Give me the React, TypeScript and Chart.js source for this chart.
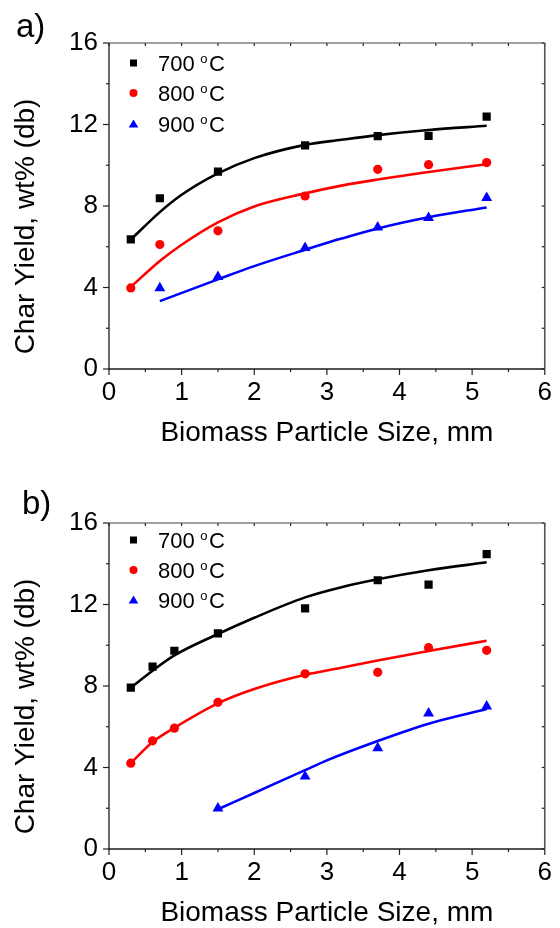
import React, { useEffect, useRef } from 'react';
import { Chart, registerables } from 'chart.js';

Chart.register(...registerables);

const FONT = '"Liberation Sans", Arial, Helvetica, sans-serif';

const X_MIN = 0;
const X_MAX = 6;
const Y_MIN = 0;
const Y_MAX = 16;

// Temperatures, colours and marker shapes shared by both panels
const tempLabels = ['700', '800', '900'];
const seriesColors = ['#000000', '#ff0000', '#0000ff'];
const markerStyles = ['rect', 'circle', 'triangle'];

// Panel a) measured char yields
const sizesA = [0.3, 0.7, 1.5, 2.7, 3.7, 4.4, 5.2];
const yieldA700 = [6.36, 8.38, 9.69, 10.98, 11.43, 11.44, 12.39];
const yieldA800 = [3.98, 6.11, 6.78, 8.49, 9.8, 10.03, 10.13];
const sizesA900 = [0.7, 1.5, 2.7, 3.7, 4.4, 5.2];
const yieldA900 = [3.97, 4.52, 5.95, 6.95, 7.42, 8.4];

// Panel a) fitted trend curves
const fitA700X = [0.3, 0.7, 1.0, 1.5, 2.0, 2.7, 3.2, 3.7, 4.4, 5.2];
const fitA700Y = [6.35, 7.7, 8.55, 9.6, 10.35, 11.0, 11.25, 11.48, 11.73, 11.94];
const fitA800X = [0.3, 0.7, 1.0, 1.5, 2.0, 2.7, 3.2, 3.7, 4.4, 5.2];
const fitA800Y = [4.03, 5.3, 6.1, 7.2, 7.98, 8.62, 9.0, 9.3, 9.67, 10.05];
const fitA900X = [0.7, 1.5, 2.0, 2.7, 3.2, 3.7, 4.4, 5.2];
const fitA900Y = [3.33, 4.4, 5.05, 5.85, 6.4, 6.9, 7.45, 7.93];

// Panel b) measured char yields
const sizesB = [0.3, 0.6, 0.9, 1.5, 2.7, 3.7, 4.4, 5.2];
const yieldB700 = [7.92, 8.95, 9.73, 10.58, 11.81, 13.19, 12.98, 14.47];
const yieldB800 = [4.21, 5.31, 5.93, 7.2, 8.6, 8.67, 9.88, 9.75];
const sizesB900 = [1.5, 2.7, 3.7, 4.4, 5.2];
const yieldB900 = [2.0, 3.56, 4.95, 6.66, 7.0];

// Panel b) fitted trend curves
const fitB700X = [0.3, 0.6, 0.9, 1.5, 2.0, 2.7, 3.2, 3.7, 4.4, 5.2];
const fitB700Y = [7.92, 8.75, 9.5, 10.55, 11.35, 12.35, 12.85, 13.24, 13.68, 14.07];
const fitB800X = [0.3, 0.6, 0.9, 1.5, 2.0, 2.7, 3.2, 3.7, 4.4, 5.2];
const fitB800Y = [4.21, 5.25, 5.95, 7.15, 7.85, 8.55, 8.9, 9.25, 9.72, 10.22];
const fitB900X = [1.5, 2.0, 2.7, 3.0, 3.7, 4.4, 5.2];
const fitB900Y = [1.95, 2.75, 3.87, 4.35, 5.3, 6.15, 6.87];

const xTitle = 'Biomass Particle Size, mm';
const yTitle = 'Char Yield, wt% (db)';

type Series = { xs: number[]; ys: number[] };

interface PanelSpec {
  tag: string;
  tagX: number;
  tagY: number;
  legendRows: number[];
  points: Series[];
  fits: Series[];
}

const zip = (xs: number[], ys: number[]) => xs.map((x, i) => ({ x, y: ys[i] }));

const markerRadius = [5.8, 4.6, 6.3];

function drawLegendMarker(ctx: CanvasRenderingContext2D, style: string, x: number, y: number, color: string) {
  ctx.fillStyle = color;
  ctx.beginPath();
  if (style === 'rect') {
    ctx.rect(x - 3.5, y - 3.5, 7, 7);
  } else if (style === 'circle') {
    ctx.arc(x, y, 4, 0, Math.PI * 2);
  } else {
    ctx.moveTo(x, y - 4.5);
    ctx.lineTo(x + 4.8, y + 3.5);
    ctx.lineTo(x - 4.8, y + 3.5);
    ctx.closePath();
  }
  ctx.fill();
}

function makeFramePlugin() {
  return {
    id: 'frameTicks',
    afterDraw(chart: any) {
      const { ctx, chartArea: a, scales } = chart;
      const xs = scales.x;
      const ys = scales.y;
      const seg = (x1: number, y1: number, x2: number, y2: number) => {
        ctx.beginPath();
        ctx.moveTo(x1, y1);
        ctx.lineTo(x2, y2);
        ctx.stroke();
      };
      ctx.save();
      ctx.lineWidth = 1.2;
      ctx.strokeStyle = '#222';
      for (let i = 0; i <= (X_MAX - X_MIN) * 2; i++) {
        const v = X_MIN + i * 0.5;
        const px = xs.getPixelForValue(v);
        const major = i % 2 === 0;
        seg(px, a.bottom, px, a.bottom + (major ? 6 : 3));
        seg(px, a.top, px, a.top + 3);
      }
      for (let i = 0; i <= (Y_MAX - Y_MIN) / 2; i++) {
        const v = Y_MIN + i * 2;
        const py = ys.getPixelForValue(v);
        const major = i % 2 === 0;
        seg(a.left - (major ? 6 : 3), py, a.left, py);
        seg(a.right - 3, py, a.right, py);
      }
      // frame
      ctx.lineWidth = 1.3;
      ctx.strokeStyle = '#1a1a1a';
      seg(a.left, a.top, a.left, a.bottom + 0.6);
      seg(a.left - 0.6, a.bottom, a.right, a.bottom);
      ctx.strokeStyle = '#444';
      ctx.lineWidth = 1.2;
      seg(a.left, a.top, a.right, a.top);
      ctx.strokeStyle = '#555';
      ctx.lineWidth = 1.6;
      seg(a.right, a.top, a.right, a.bottom);
      ctx.restore();
    },
  };
}

function makeTextPlugin(spec: PanelSpec) {
  return {
    id: 'panelText',
    afterDraw(chart: any) {
      const { ctx, chartArea: a } = chart;
      ctx.save();
      ctx.fillStyle = '#000';

      // panel tag
      ctx.font = `33px ${FONT}`;
      ctx.textAlign = 'left';
      ctx.textBaseline = 'alphabetic';
      ctx.fillText(spec.tag, spec.tagX, spec.tagY);

      // x axis title
      ctx.font = `28px ${FONT}`;
      ctx.textAlign = 'center';
      ctx.textBaseline = 'middle';
      ctx.fillText(xTitle, (a.left + a.right) / 2, 433);

      // y axis title
      ctx.save();
      ctx.translate(26, 226.5);
      ctx.rotate(-Math.PI / 2);
      ctx.fillText(yTitle, 0, 0);
      ctx.restore();

      // legend
      ctx.textAlign = 'left';
      ctx.textBaseline = 'alphabetic';
      spec.legendRows.forEach((rowY, i) => {
        drawLegendMarker(ctx, markerStyles[i], 133.5, rowY, seriesColors[i]);
        ctx.fillStyle = '#000';
        ctx.font = `22px ${FONT}`;
        const base = rowY + 8;
        let x = 158;
        const num = tempLabels[i] + ' ';
        ctx.fillText(num, x, base);
        x += ctx.measureText(num).width - 0.5;
        ctx.font = `13px ${FONT}`;
        ctx.fillText('o', x, base - 8);
        x += ctx.measureText('o').width + 1.5;
        ctx.font = `22px ${FONT}`;
        ctx.fillText('C', x, base);
      });
      ctx.restore();
    },
  };
}

function Panel({ spec, top }: { spec: PanelSpec; top: number }) {
  const ref = useRef<HTMLCanvasElement | null>(null);

  useEffect(() => {
    const canvas = ref.current;
    if (!canvas) return;

    const pointSets = spec.points.map((s, i) => ({
      label: tempLabels[i] + ' °C',
      data: zip(s.xs, s.ys),
      pointStyle: markerStyles[i],
      pointRadius: markerRadius[i],
      pointBackgroundColor: seriesColors[i],
      pointBorderColor: seriesColors[i],
      pointBorderWidth: 0,
      showLine: false,
      order: 1,
    }));
    const fitSets = spec.fits.map((s, i) => ({
      label: tempLabels[i] + ' °C fit',
      data: zip(s.xs, s.ys),
      showLine: true,
      borderColor: seriesColors[i],
      borderWidth: 2.6,
      pointRadius: 0,
      cubicInterpolationMode: 'monotone',
      order: 2,
    }));

    const tickFont = { family: FONT, size: 26 };

    const chart = new Chart(canvas, {
      type: 'scatter',
      data: { datasets: [...fitSets, ...pointSets] as any },
      options: {
        animation: false,
        responsive: false,
        devicePixelRatio: 1,
        layout: { padding: { top: 43, right: 11, left: 0, bottom: 0 } },
        plugins: {
          legend: { display: false },
          tooltip: { enabled: false },
        },
        scales: {
          x: {
            type: 'linear',
            position: 'bottom',
            min: X_MIN,
            max: X_MAX,
            grid: { display: false, drawTicks: false },
            border: { display: false },
            ticks: {
              stepSize: 1,
              padding: 8,
              color: '#000',
              font: tickFont,
              maxRotation: 0,
              autoSkip: false,
            },
            afterFit: (s: any) => {
              s.height = 79;
            },
          },
          y: {
            type: 'linear',
            position: 'left',
            min: Y_MIN,
            max: Y_MAX,
            grid: { display: false, drawTicks: false },
            border: { display: false },
            ticks: {
              stepSize: 4,
              padding: 11,
              color: '#000',
              font: tickFont,
            },
            afterFit: (s: any) => {
              s.width = 109;
            },
          },
        },
      } as any,
      plugins: [makeFramePlugin(), makeTextPlugin(spec)],
    });

    return () => chart.destroy();
  }, [spec]);

  return (
    <canvas
      ref={ref}
      width={560}
      height={448}
      style={{ position: 'absolute', left: 0, top, width: 560, height: 448, display: 'block' }}
    />
  );
}

const panelA: PanelSpec = {
  tag: 'a)',
  tagX: 16,
  tagY: 37,
  legendRows: [63, 93, 124],
  points: [
    { xs: sizesA, ys: yieldA700 },
    { xs: sizesA, ys: yieldA800 },
    { xs: sizesA900, ys: yieldA900 },
  ],
  fits: [
    { xs: fitA700X, ys: fitA700Y },
    { xs: fitA800X, ys: fitA800Y },
    { xs: fitA900X, ys: fitA900Y },
  ],
};

const panelB: PanelSpec = {
  tag: 'b)',
  tagX: 22,
  tagY: 34,
  legendRows: [60, 90, 120],
  points: [
    { xs: sizesB, ys: yieldB700 },
    { xs: sizesB, ys: yieldB800 },
    { xs: sizesB900, ys: yieldB900 },
  ],
  fits: [
    { xs: fitB700X, ys: fitB700Y },
    { xs: fitB800X, ys: fitB800Y },
    { xs: fitB900X, ys: fitB900Y },
  ],
};

export default function App() {
  return (
    <div
      style={{
        position: 'absolute',
        left: 0,
        top: 0,
        width: 560,
        height: 928,
        background: '#fff',
        overflow: 'hidden',
      }}
    >
      <Panel spec={panelA} top={0} />
      <Panel spec={panelB} top={480} />
    </div>
  );
}
